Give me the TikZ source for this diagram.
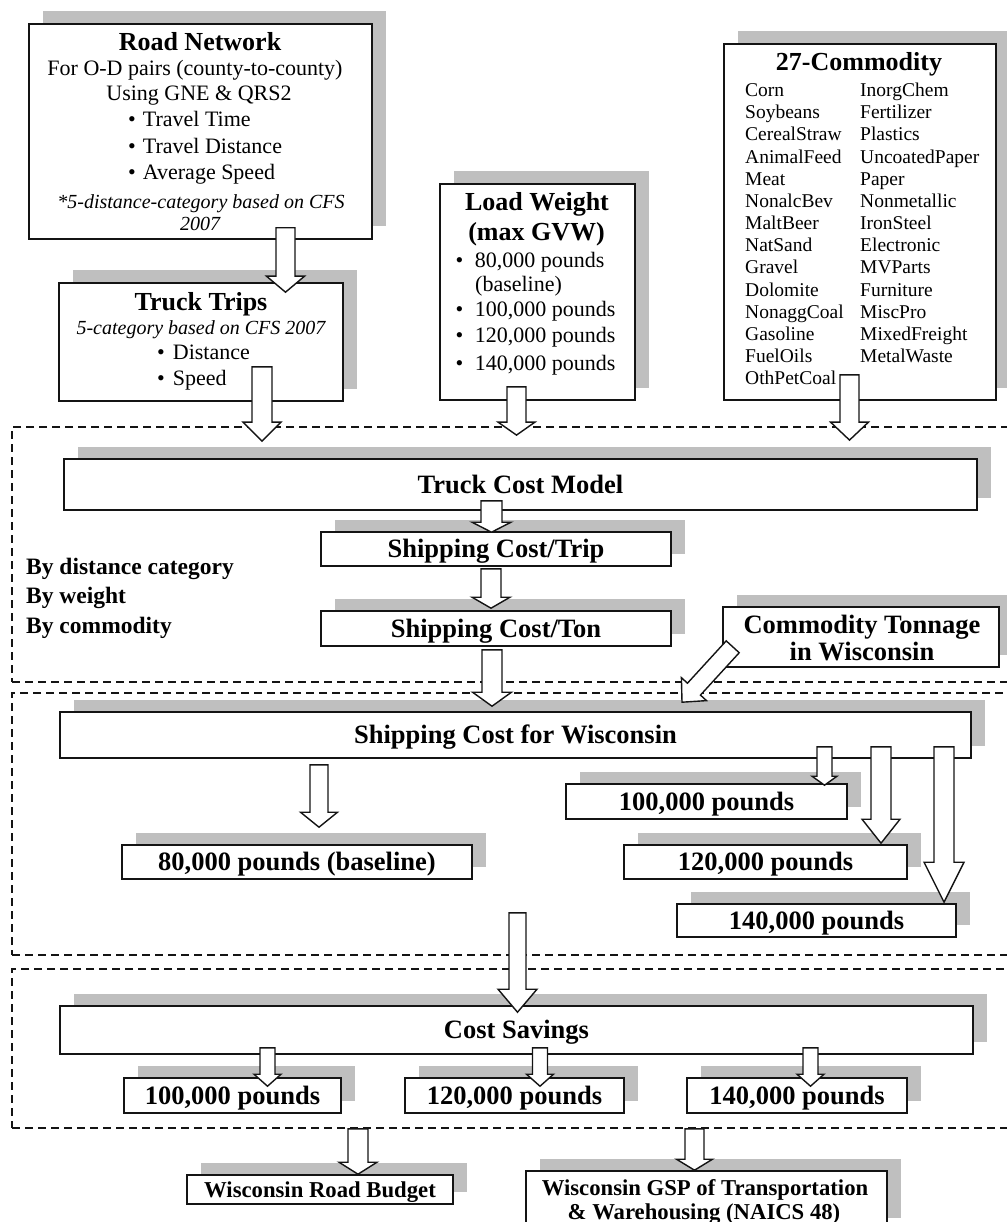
\documentclass[tikz,border=0pt]{standalone}
\usepackage{fontspec}
\setmainfont{Liberation Serif}
\usetikzlibrary{calc,shadows}
\definecolor{shadowgray}{RGB}{191,191,191}
\definecolor{ink}{RGB}{20,20,20}
\newcommand\barrow[5]{%
  \path ($(#2)!#5pt!(#1)$) coordinate (bb);
  \draw[blockarrow] ($(#1)!#3pt!90:(#2)$) -- ($(bb)!#3pt!90:(#2)$) -- ($(bb)!#4pt!90:(#2)$) -- (#2)
     -- ($(bb)!#4pt!-90:(#2)$) -- ($(bb)!#3pt!-90:(#2)$) -- ($(#1)!#3pt!-90:(#2)$) -- cycle;
}
\begin{document}
\begin{tikzpicture}[x=1pt,y=-1pt,
  box/.style={draw=ink, line width=1.6pt, fill=white, inner sep=0pt,
    general shadow={fill=shadowgray, shadow xshift=13.5pt, shadow yshift=12.5pt}},
  lbox/.style={box, font=\fontsize{26.5}{30}\selectfont\bfseries, text height=17.5pt, text depth=0pt},
  sbox/.style={box, font=\fontsize{22.7}{26}\selectfont\bfseries, text height=15pt, text depth=0pt},
  region/.style={draw=ink, line width=1.8pt, dash pattern=on 8pt off 5pt, inner sep=0pt},
  ttl/.style={font=\fontsize{26}{30}\selectfont\bfseries, inner sep=0pt, text height=17pt, text depth=0pt},
  body/.style={font=\fontsize{22}{26}\selectfont, inner sep=0pt, text height=14.5pt, text depth=0pt},
  note/.style={font=\fontsize{20}{24}\selectfont\itshape, inner sep=0pt, text height=13pt, text depth=0pt},
  item/.style={font=\fontsize{19.5}{22}\selectfont, inner sep=0pt, anchor=west, text height=13pt, text depth=0pt},
  side/.style={font=\fontsize{23.5}{28}\selectfont\bfseries, inner sep=0pt, anchor=west, text height=15.5pt, text depth=0pt},
  small/.style={font=\fontsize{22.7}{26}\selectfont\bfseries, inner sep=0pt, text height=15pt, text depth=0pt},
  blockarrow/.style={draw=ink, line width=1.4pt, fill=white, line join=miter},
]
\useasboundingbox (0,0) rectangle (1006,1222);

% dashed regions
\node[region, minimum width=1008pt, minimum height=255pt] (r1) at (516,554.5) {};
\node[region, minimum width=1008pt, minimum height=262pt] (r2) at (516,824) {};
\node[region, minimum width=1008pt, minimum height=159pt] (r3) at (516,1048.5) {};

% boxes
\node[box, minimum width=343pt, minimum height=215pt] (rn) at (200.5,131.5) {};
\node[box, minimum width=284pt, minimum height=118pt] (tt) at (201,342) {};
\node[box, minimum width=195pt, minimum height=216pt] (lw) at (537.5,292) {};
\node[box, minimum width=272pt, minimum height=356pt] (cm) at (860,222) {};
\node[lbox, minimum width=913pt, minimum height=51pt] (tcm) at (520.5,484.5) {Truck Cost Model};
\node[lbox, minimum width=350pt, minimum height=34pt] (sct) at (496,549) {Shipping Cost/Trip};
\node[lbox, minimum width=350pt, minimum height=35pt] (scn) at (496,628.5) {Shipping Cost/Ton};
\node[box, minimum width=276pt, minimum height=60pt] (ct) at (861,637) {};
\node[lbox, minimum width=911pt, minimum height=46pt] (scw) at (515.5,735) {Shipping Cost for Wisconsin};
\node[lbox, minimum width=350pt, minimum height=34pt] (w80) at (297,862) {80,000 pounds (baseline)};
\node[lbox, minimum width=281pt, minimum height=35pt] (w100) at (706.5,801.5) {100,000 pounds};
\node[lbox, minimum width=283pt, minimum height=34pt] (w120) at (765.5,862) {120,000 pounds};
\node[lbox, minimum width=279pt, minimum height=33pt] (w140) at (816.5,920.5) {140,000 pounds};
\node[lbox, minimum width=913pt, minimum height=48pt] (cs) at (516.5,1030) {Cost Savings};
\node[lbox, minimum width=217pt, minimum height=35pt] (s100) at (232.5,1095.5) {100,000 pounds};
\node[lbox, minimum width=219pt, minimum height=35pt] (s120) at (514.5,1095.5) {120,000 pounds};
\node[lbox, minimum width=220pt, minimum height=35pt] (s140) at (797,1095.5) {140,000 pounds};
\node[sbox, minimum width=266pt, minimum height=29pt] (wrb) at (320,1189.5) {Wisconsin Road Budget};
\node[box, minimum width=361pt, minimum height=59pt] (gsp) at (706.5,1200.5) {};

% Road Network text
\node[ttl] (rnt) at (200,42) {Road Network};
\node[body] (rn1) at (195,68) {For O-D pairs (county-to-county)};
\node[body] (rn2) at (199,93) {Using GNE \& QRS2};
\node[body, anchor=west] (rn3) at (128,119) {\textbullet\hspace{7pt}Travel Time};
\node[body, anchor=west] (rn4) at (128,146) {\textbullet\hspace{7pt}Travel Distance};
\node[body, anchor=west] (rn5) at (128,172) {\textbullet\hspace{7pt}Average Speed};
\node[note] (rn6) at (201,202) {*5-distance-category based on CFS};
\node[note] (rn7) at (200,224) {2007};

% Truck Trips text
\node[ttl] (ttt) at (201,302) {Truck Trips};
\node[note] (tt1) at (201,328) {5-category based on CFS 2007};
\node[body, anchor=west] (tt2) at (157,352) {\textbullet\hspace{8pt}Distance};
\node[body, anchor=west] (tt3) at (157,378) {\textbullet\hspace{8pt}Speed};

% Load Weight text
\node[ttl] (lwt) at (537,202) {Load Weight};
\node[ttl] (lwt2) at (536.5,232) {(max GVW)};
\node[body, anchor=west] (lw1) at (455.5,260) {\textbullet\hspace{11.5pt}80,000 pounds};
\node[body, anchor=west] (lw2) at (475,284) {(baseline)};
\node[body, anchor=west] (lw3) at (455.5,309) {\textbullet\hspace{11.5pt}100,000 pounds};
\node[body, anchor=west] (lw4) at (455.5,335) {\textbullet\hspace{11.5pt}120,000 pounds};
\node[body, anchor=west] (lw5) at (455.5,363) {\textbullet\hspace{11.5pt}140,000 pounds};

% 27-Commodity text
\node[ttl] (cmt) at (859,62) {27-Commodity};
\foreach \t [count=\i from 0] in {Corn,Soybeans,CerealStraw,AnimalFeed,Meat,NonalcBev,MaltBeer,NatSand,Gravel,Dolomite,NonaggCoal,Gasoline,FuelOils,OthPetCoal}
  \node[item] (ca\i) at (745,{90+22.18*\i}) {\t};
\foreach \t [count=\i from 0] in {InorgChem,Fertilizer,Plastics,UncoatedPaper,Paper,Nonmetallic,IronSteel,Electronic,MVParts,Furniture,MiscPro,MixedFreight,MetalWaste}
  \node[item] (cb\i) at (860,{90+22.18*\i}) {\t};

% side labels
\node[side] (by1) at (26,567) {By distance category};
\node[side] (by2) at (26,596) {By weight};
\node[side] (by3) at (26,626) {By commodity};

% Commodity Tonnage text
\node[ttl, font=\fontsize{26.5}{30}\selectfont\bfseries] (ct1) at (862,625) {Commodity Tonnage};
\node[ttl, font=\fontsize{26.5}{30}\selectfont\bfseries] (ct2) at (862,652) {in Wisconsin};

% GSP text
\node[small] (gsp1) at (705,1188) {Wisconsin GSP of Transportation};
\node[small] (gsp2) at (704,1212) {\& Warehousing (NAICS 48)};

% arrow end points
\path (285.5,0 |- rn.south) ++(0,-12) coordinate (a1s);
\path (285.5,0 |- tt.north) ++(0,10) coordinate (a1t);
\path (262,0 |- tt.south) ++(0,-35) coordinate (a2s);
\path (262,0 |- r1.north) ++(0,15) coordinate (a2t);
\path (516.5,0 |- lw.south) ++(0,-14) coordinate (a3s);
\path (516.5,0 |- r1.north) ++(0,9) coordinate (a3t);
\path (849.5,0 |- cm.south) ++(0,-26) coordinate (a4s);
\path (849.5,0 |- r1.north) ++(0,14) coordinate (a4t);
\path (491.5,0 |- tcm.south) ++(0,-10) coordinate (a5s);
\path (491.5,0 |- sct.north) ++(0,1) coordinate (a5t);
\path (491,0 |- sct.south) ++(0,2) coordinate (a6s);
\path (491,0 |- scn.north) ++(0,-2) coordinate (a6t);
\path (492,0 |- scn.south) ++(0,3) coordinate (a7s);
\path (492,0 |- scw.north) ++(0,-5) coordinate (a7t);
\path (ct.south west) ++(10.5,-21) coordinate (a8s);
\path (682,0 |- scw.north) ++(0,-9) coordinate (a8t);
\path (319,0 |- scw.south) ++(0,6) coordinate (a9s);
\path (319,0 |- w80.north) ++(0,-17) coordinate (a9t);
\path (824.5,0 |- scw.south) ++(0,-12) coordinate (a10s);
\path (824.5,0 |- w100.north) ++(0,2) coordinate (a10t);
\path (881,0 |- scw.south) ++(0,-12) coordinate (a11s);
\path (881,0 |- w120.north) ++(0,-1) coordinate (a11t);
\path (944,0 |- scw.south) ++(0,-12) coordinate (a12s);
\path (944,0 |- w140.north) ++(0,-1) coordinate (a12t);
\path (517.5,0 |- r2.south) ++(0,-43) coordinate (a13s);
\path (517.5,0 |- cs.north) ++(0,7) coordinate (a13t);
\path (267.5,0 |- cs.south) ++(0,-7) coordinate (a14s);
\path (267.5,0 |- s100.north) ++(0,9) coordinate (a14t);
\path (540,0 |- cs.south) ++(0,-7) coordinate (a15s);
\path (540,0 |- s120.north) ++(0,9) coordinate (a15t);
\path (810.5,0 |- cs.south) ++(0,-7) coordinate (a16s);
\path (810.5,0 |- s140.north) ++(0,9) coordinate (a16t);
\path (358,0 |- r3.south) coordinate (a17s);
\path (358,0 |- wrb.north) coordinate (a17t);
\path (694.5,0 |- r3.south) coordinate (a18s);
\path (694.5,0 |- gsp.north) coordinate (a18t);

% block arrows
\barrow{a1s}{a1t}{9.5}{19}{16}
\barrow{a2s}{a2t}{10}{19}{19}
\barrow{a3s}{a3t}{9.5}{18.5}{13}
\barrow{a4s}{a4t}{9.5}{19}{18}
\barrow{a5s}{a5t}{10.5}{19.5}{10}
\barrow{a6s}{a6t}{10}{19}{11}
\barrow{a7s}{a7t}{10}{19.5}{14}
\barrow{a8s}{a8t}{8.8}{17}{17.7}
\barrow{a9s}{a9t}{9}{18.5}{15}
\barrow{a10s}{a10t}{7.5}{12.5}{9}
\barrow{a11s}{a11t}{10}{19}{24}
\barrow{a12s}{a12t}{10}{20}{40}
\barrow{a13s}{a13t}{8.5}{19.5}{23}
\barrow{a14s}{a14t}{7.5}{13.5}{12}
\barrow{a15s}{a15t}{7.5}{13.5}{12}
\barrow{a16s}{a16t}{7.5}{13.5}{12}
\barrow{a17s}{a17t}{10}{19}{12}
\barrow{a18s}{a18t}{9.5}{18}{11}
\end{tikzpicture}
\end{document}
